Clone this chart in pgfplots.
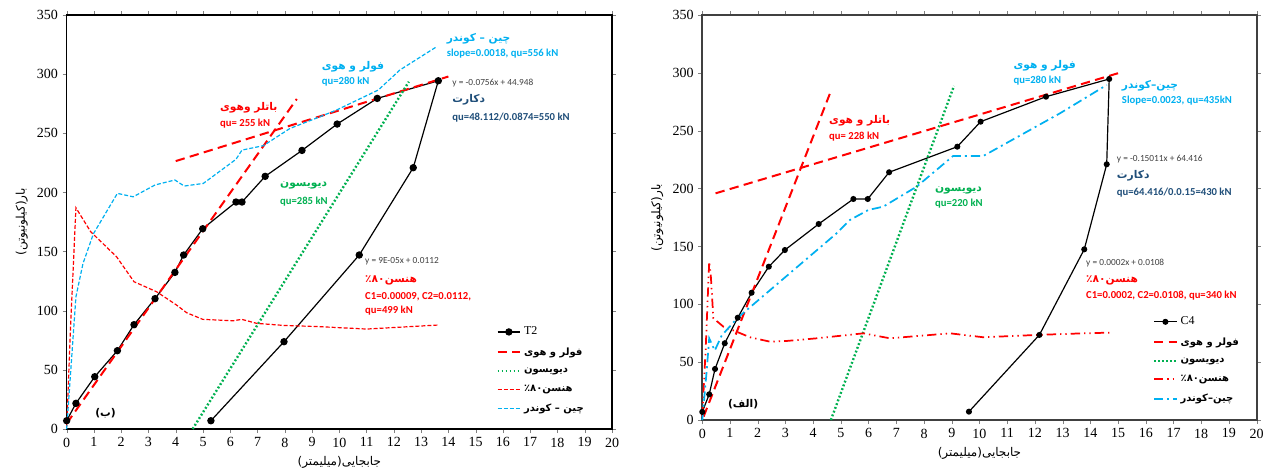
\documentclass[border=0pt]{standalone}
\usepackage{fontspec}
\usepackage{pgfplots}
\pgfplotsset{compat=1.18}
\setmainfont{Liberation Serif}
\newfontfamily\timesf{Liberation Serif}
\newfontfamily\arabicfont[Script=Arabic]{DejaVu Sans}
\newfontfamily\calib{Carlito}
\TeXXeTstate=1
\definecolor{cred}{HTML}{FF0000}
\definecolor{cblue}{HTML}{00B0F0}
\definecolor{cgreen}{HTML}{00B050}
\definecolor{cnavy}{HTML}{1F4E79}
\definecolor{cgray}{HTML}{404040}
\definecolor{cframe}{HTML}{404040}
\newcommand{\fa}[1]{{\arabicfont\beginR #1\endR}}
\newcommand{\fab}[1]{{\arabicfont\bfseries\beginR #1\endR}}
\newcommand{\lt}{\calib\bfseries\fontsize{8}{9}\selectfont}
\newcommand{\eqf}{\calib\fontsize{7}{8}\selectfont}
\newcommand{\faf}{\fontsize{8}{9.5}\selectfont}
\newcommand{\lgf}{\fontsize{7.5}{9}\selectfont}
\pgfplotsset{base/.style={scale only axis, xmin=0, xmax=20, ymin=0, ymax=350,
  xtick={0,1,...,20}, ytick={0,50,...,350}, tick align=outside, major tick length=3pt,
  clip=false, /pgf/number format/assume math mode=true,
  tick label style={font=\timesf\mdseries\fontsize{10.5}{12}\selectfont},
  xticklabel={\timesf\pgfmathprintnumber{\tick}},
  yticklabel={\timesf\pgfmathprintnumber{\tick}},
  xlabel={\fa{جابجایی(میلیمتر)}}, ylabel={\fa{بار(کیلونیوتن)}},
  label style={font=\fontsize{9}{10}\selectfont},
  legend cell align=left,
  legend style={draw=none, fill=none, font=\lgf, row sep=4pt, anchor=north west}},
  fh/.style={cred, line width=1.5pt, dash pattern=on 7pt off 4pt},
  dv/.style={cgreen, line width=1.8pt, dash pattern=on 1.4pt off 1.6pt},
}
\begin{document}
\begin{tikzpicture}
\useasboundingbox (0,0) rectangle (957pt,351pt);
% ---------------- left (b) ----------------
\begin{axis}[base, at={(50pt,29.25pt)}, anchor=south west, width=409pt, height=310.5pt,
  axis line style={line width=1.1pt, black}, legend style={at={(axis cs:15.6,91)}}]
\addplot[black, line width=0.9pt, mark=*, mark size=2.3pt] coordinates {
(0,7) (0.34,21.7) (1.03,44.2) (1.86,66.2) (2.47,88.2) (3.24,110.2) (3.97,132.4) (4.29,147.1) (4.99,169.3) (6.21,191.9) (6.43,191.9) (7.28,213.6) (8.63,235.5) (9.92,257.8) (11.39,279.5) (13.63,294.4) (12.71,220.9) (10.73,147.1) (7.97,73.8) (5.29,7.0)};
\addlegendentry{\timesf\fontsize{9}{10}\selectfont T2}
\addplot[fh] coordinates {(0,4.7) (8.44,279)};
\addlegendentry{\fab{فولر و هوی}}
\addplot[fh, forget plot] coordinates {(4.0,226.5) (14.0,298)};
\addplot[dv] coordinates {(4.62,0) (12.55,293.6)};
\addlegendentry{\fab{دیویسون}}
\addplot[cred, line width=0.9pt, dash pattern=on 3pt off 1.5pt] coordinates {
(0,2) (0.15,90) (0.34,187) (0.88,166.8) (1.83,145.6) (2.47,124.5) (3.3,116) (4.03,104.8) (4.4,98.3) (4.99,92.7) (6.11,91.5) (6.42,92.7) (6.97,89.3) (7.94,87.6) (9.29,86.5) (11.0,84.5) (13.63,87.9)};
\addlegendentry{\fab{هنسن۸۰٪}}
\addplot[cblue, line width=0.9pt, dash pattern=on 3pt off 1.5pt] coordinates {
(0,0) (0.34,111.8) (0.6,140) (0.98,165) (1.86,199.2) (2.44,196.3) (3.24,206.3) (3.97,210.5) (4.31,205.4) (5.01,207.6) (6.21,228) (6.43,235.8) (7.21,239.5) (8.19,254.1) (9.29,264) (9.9,269.7) (11.43,286.6) (12.22,303.5) (13.57,323.2)};
\addlegendentry{\fab{چین – کوندر}}
\node[anchor=west, inner sep=0pt, text=cred, font=\faf] at (axis cs:5.62,271.3) {\fab{باتلر وهوی}};
\node[anchor=west, inner sep=0pt, text=cred, font=\lt] at (axis cs:5.62,257.8) {qu= 255 kN};
\node[anchor=west, inner sep=0pt, text=cblue, font=\faf] at (axis cs:9.35,306.3) {\fab{فولر و هوی}};
\node[anchor=west, inner sep=0pt, text=cblue, font=\lt] at (axis cs:9.35,293.6) {qu=280 kN};
\node[anchor=west, inner sep=0pt, text=cblue, font=\faf] at (axis cs:13.93,330.3) {\fab{چین – کوندر}};
\node[anchor=west, inner sep=0pt, text=cblue, font=\lt] at (axis cs:13.93,317) {slope=0.0018, qu=556 kN};
\node[anchor=west, inner sep=0pt, text=cgray, font=\eqf] at (axis cs:14.14,292.2) {y = -0.0756x + 44.948};
\node[anchor=west, inner sep=0pt, text=cnavy, font=\faf] at (axis cs:14.14,278.1) {\fab{دکارت}};
\node[anchor=west, inner sep=0pt, text=cnavy, font=\lt] at (axis cs:14.14,263.5) {qu=48.112/0.0874=550 kN};
\node[anchor=west, inner sep=0pt, text=cgreen, font=\faf] at (axis cs:7.82,206.3) {\fab{دیویسون}};
\node[anchor=west, inner sep=0pt, text=cgreen, font=\lt] at (axis cs:7.82,192.1) {qu=285 kN};
\node[anchor=west, inner sep=0pt, text=cgray, font=\eqf] at (axis cs:10.94,142) {y = 9E-05x + 0.0112};
\node[anchor=west, inner sep=0pt, text=cred, font=\faf] at (axis cs:10.94,125.4) {\fab{هنسن۸۰٪}};
\node[anchor=west, inner sep=0pt, text=cred, font=\lt] at (axis cs:10.94,111.8) {C1=0.00009, C2=0.0112,};
\node[anchor=west, inner sep=0pt, text=cred, font=\lt] at (axis cs:10.94,99.7) {qu=499 kN};
\node[anchor=west, inner sep=0pt, text=black, font=\faf] at (axis cs:1.04,13.3) {\fab{(ب)}};
\end{axis}
% ---------------- right (alef) ----------------
\begin{axis}[base, at={(526.7pt,36pt)}, anchor=south west, width=415.8pt, height=303.75pt,
  axis line style={line width=1.4pt, cframe}, legend style={at={(axis cs:16.1,94)}}]
\addplot[black, line width=0.9pt, mark=*, mark size=1.8pt] coordinates {
(0,7) (0.25,22.2) (0.46,44.1) (0.81,66.3) (1.28,88.4) (1.78,110) (2.4,132.5) (2.98,146.9) (4.2,169.4) (5.45,191) (5.97,191) (6.74,214.1) (9.2,236.2) (10.04,257.8) (12.4,279.4) (14.68,294.7) (14.59,221) (13.78,147.5) (12.16,73.5) (9.62,7.2)};
\addlegendentry{\timesf\fontsize{9}{10}\selectfont C4}
\addplot[fh] coordinates {(0.05,3) (4.6,281.8)};
\addlegendentry{\fab{فولر و هوی}}
\addplot[fh, forget plot] coordinates {(0.48,195.9) (15.07,300.2)};
\addplot[dv] coordinates {(4.64,0) (9.08,288.7)};
\addlegendentry{\fab{دیویسون}}
\addplot[cred, line width=1.3pt, dash pattern=on 7pt off 3pt on 1pt off 3pt on 1pt off 3pt] coordinates {
(0,3) (0.12,60) (0.25,136.8) (0.31,123.9) (0.4,87.9) (0.76,80.7) (1.24,76.3) (1.72,71.5) (2.44,67.7) (3.04,68.3) (4.13,70.6) (5.81,74.9) (6.77,70.6) (8.94,74.9) (10.14,71.5) (12.06,73.5) (13.74,74.9) (14.71,75.5)};
\addlegendentry{\fab{هنسن۸۰٪}}
\addplot[cblue, line width=1.3pt, dash pattern=on 7pt off 3pt on 1.5pt off 3pt] coordinates {
(0,0) (0.15,40) (0.25,70.6) (0.45,60) (0.7,73) (1.28,88.4) (4.85,161.4) (5.33,172.9) (5.99,181.5) (6.53,184.4) (7.73,201.6) (9.05,228.2) (10.14,228.2) (12.9,265) (14.59,289.5)};
\addlegendentry{\fab{چین–کوندر}}
\node[anchor=west, inner sep=0pt, text=cred, font=\faf] at (axis cs:4.57,258.7) {\fab{باتلر و هوی}};
\node[anchor=west, inner sep=0pt, text=cred, font=\lt] at (axis cs:4.57,244.9) {qu= 228 kN};
\node[anchor=west, inner sep=0pt, text=cblue, font=\faf] at (axis cs:11.22,306.2) {\fab{فولر و هوی}};
\node[anchor=west, inner sep=0pt, text=cblue, font=\lt] at (axis cs:11.22,293.3) {qu=280 kN};
\node[anchor=west, inner sep=0pt, text=cblue, font=\faf] at (axis cs:15.13,288.7) {\fab{چین–کوندر}};
\node[anchor=west, inner sep=0pt, text=cblue, font=\lt] at (axis cs:15.13,275.7) {Slope=0.0023, qu=435kN};
\node[anchor=west, inner sep=0pt, text=cgreen, font=\faf] at (axis cs:8.39,198.8) {\fab{دیویسون}};
\node[anchor=west, inner sep=0pt, text=cgreen, font=\lt] at (axis cs:8.39,186.7) {qu=220 kN};
\node[anchor=west, inner sep=0pt, text=cgray, font=\eqf] at (axis cs:14.95,225.3) {y = -0.15011x + 64.416};
\node[anchor=west, inner sep=0pt, text=cnavy, font=\faf] at (axis cs:14.95,210.9) {\fab{دکارت}};
\node[anchor=west, inner sep=0pt, text=cnavy, font=\lt] at (axis cs:14.95,196.5) {qu=64.416/0.0.15=430 kN};
\node[anchor=west, inner sep=0pt, text=cgray, font=\eqf] at (axis cs:13.84,135.4) {y = 0.0002x + 0.0108};
\node[anchor=west, inner sep=0pt, text=cred, font=\faf] at (axis cs:13.84,121.0) {\fab{هنسن۸۰٪}};
\node[anchor=west, inner sep=0pt, text=cred, font=\lt] at (axis cs:13.84,107.4) {C1=0.0002, C2=0.0108, qu=340 kN};
\node[anchor=west, inner sep=0pt, text=black, font=\faf] at (axis cs:0.92,13.8) {\fab{(الف)}};
\end{axis}
\end{tikzpicture}
\end{document}
